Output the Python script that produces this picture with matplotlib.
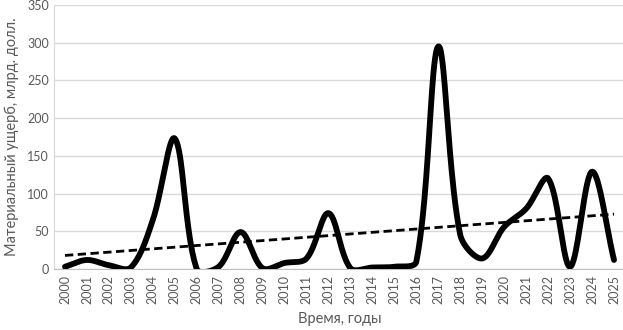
import numpy as np
import matplotlib.pyplot as plt

plt.rcParams['font.family'] = ['Lato', 'DejaVu Sans']

years = [str(y) for y in range(2000, 2026)]
damage = [3, 12, 5, 2, 65, 173, 0, 3, 49, 1, 8, 14, 74, 1, 2, 3, 10,
          295, 45, 14, 56, 80, 120, 3, 129, 12]

# сглаженная линия как в Excel: Безье, касательные взвешены длинами хорд
# (в пикселях экрана, чтобы не было выбросов у крутых участков)
def smooth(x, y, kx=22.0, ky=0.754, n=40):
    P = np.column_stack([np.asarray(x, float) * kx, np.asarray(y, float) * ky])
    m = len(P)
    d = np.linalg.norm(np.diff(P, axis=0), axis=1)
    out = []
    t = np.linspace(0, 1, n)[:, None]
    for i in range(m - 1):
        p0, p3 = P[i], P[i + 1]
        if i > 0:
            T = P[i + 1] - P[i - 1]
            p1 = p0 + T * d[i] / (d[i - 1] + d[i]) / 3
        else:
            p1 = p0 + (P[1] - P[0]) / 3
        if i + 2 < m:
            T = P[i + 2] - P[i]
            p2 = p3 - T * d[i] / (d[i] + d[i + 1]) / 3
        else:
            p2 = p3 - (P[i + 1] - P[i]) / 3
        b = (1 - t) ** 3 * p0 + 3 * (1 - t) ** 2 * t * p1 + 3 * (1 - t) * t ** 2 * p2 + t ** 3 * p3
        out.append(b)
    B = np.vstack(out)
    return B[:, 0] / kx, B[:, 1] / ky

x = np.arange(len(years))
sx, sy = smooth(x, damage)

# линейный тренд
k, b = np.polyfit(x, damage, 1)

fig = plt.figure(figsize=(6.23, 3.30), dpi=100)
ax = fig.add_axes([54 / 623, 61 / 330, 571 / 623, 264 / 330])

ax.plot(sx, sy, color='black', lw=4.2, solid_capstyle='round', zorder=3)
ax.plot(x, k * x + b, color='black', lw=2, ls=(0, (3, 1.6)), zorder=4)

ax.set_xlim(-0.5, 25.5)
ax.set_ylim(0, 350)
ax.set_yticks(range(0, 351, 50))
ax.set_xticks(x)
ax.set_xticklabels(years, rotation=90)
ax.tick_params(axis='both', length=0, colors='#595959', labelsize=9)
ax.tick_params(axis='x', pad=4)
ax.grid(axis='y', color='#d9d9d9', lw=1)
ax.set_axisbelow(True)
for s in ['top', 'right']:
    ax.spines[s].set_visible(False)
ax.spines['bottom'].set_color('#bfbfbf')
ax.spines['left'].set_color('#d9d9d9')

ax.set_xlabel('Время, годы', color='#595959', fontsize=10.5, labelpad=6)
ax.set_ylabel('Материальный ущерб, млрд. долл.', color='#595959', fontsize=10.5, labelpad=6)

fig.savefig('out.png', dpi=100)
